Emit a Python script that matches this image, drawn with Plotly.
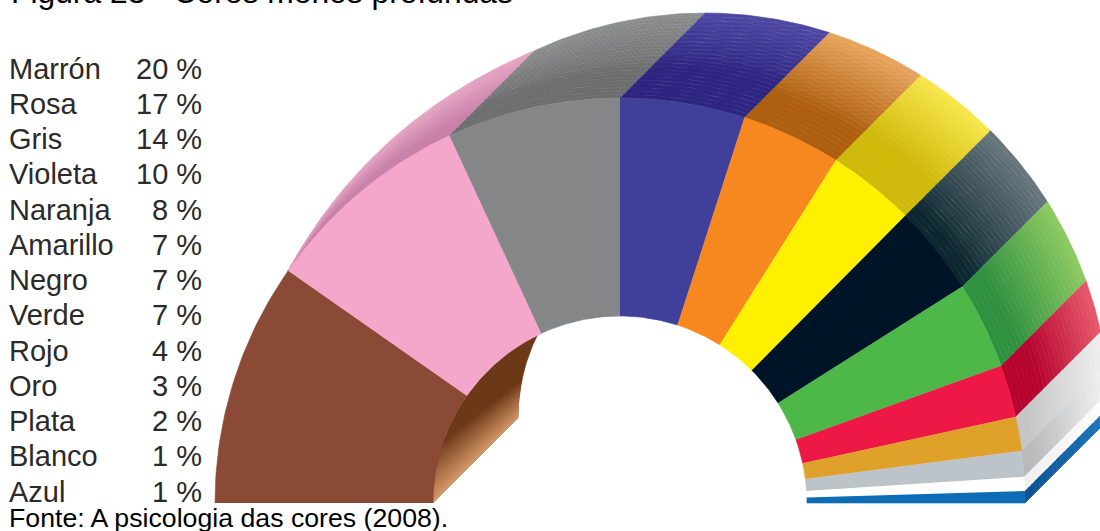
import math
import plotly.graph_objects as go

# ---- data ----
categories = ["Marrón", "Rosa", "Gris", "Violeta", "Naranja", "Amarillo", "Negro",
              "Verde", "Rojo", "Oro", "Plata", "Blanco", "Azul"]
percent = [20, 17, 14, 10, 8, 7, 7, 7, 4, 3, 2, 1, 1]
# angular width of each slice as drawn in the picture (degrees)
span_deg = [35.0, 30.1, 24.9, 17.9, 14.3, 12.6, 12.9, 12.5, 7.5, 4.9, 3.7, 2.0, 1.7]
front_colors = ["#8a4a35", "#f4a6cb", "#848688", "#40409a", "#f7881f", "#fff000", "#001428",
                "#4db848", "#ee1847", "#e0a12a", "#bcc3c9", "#ffffff", "#0d6cb3"]
top_dark = ["#8a4a35", "#c67da6", "#6c6d6f", "#2d2580", "#ad5e0f", "#cfb90a", "#0c2730",
            "#2f9040", "#b5042e", "#c4c5c7", "#b8b9bb", "#efefef", "#0b4f8f"]
top_light = ["#8a4a35", "#e5a3c2", "#8b8c8c", "#4c46a2", "#e9a45c", "#f8e84c", "#67767d",
             "#8ecb63", "#e75a6b", "#f0f0f0", "#f4f4f4", "#ffffff", "#1f78c0"]
top_hold = [0, 0.2, 0.3, 0.38, 0.3, 0.35, 0.1, 0.2, 0.3, 0.1, 0.1, 0, 0]
hatch_shape = ["", "", "\\", "-", "-", "", "\\", "", "", "", "", "", ""]

# ---- geometry of the extruded half ring ----
CX, CY, R_OUT, R_IN = 620.0, 503.0, 405.0, 187.0
DX, DY = 85.0, -85.0
BANDS = 24


def pt(r, deg, t=0.0):
    a = math.radians(deg)
    return CX + r * math.cos(a) + t * DX, CY - r * math.sin(a) + t * DY


def arc(r, a0, a1, t=0.0, n=40):
    p = [pt(r, a0 + (a1 - a0) * i / n, t) for i in range(n + 1)]
    return [q[0] for q in p], [q[1] for q in p]


def mix(c0, c1, f):
    a = [int(c0[i:i + 2], 16) for i in (1, 3, 5)]
    b = [int(c1[i:i + 2], 16) for i in (1, 3, 5)]
    return "rgb(%d,%d,%d)" % tuple(round(u + (v - u) * f) for u, v in zip(a, b))


fig = go.Figure()


def poly(xs, ys, color, name, text=None):
    fig.add_trace(go.Scatter(x=xs, y=ys, mode="lines", fill="toself", fillcolor=color,
                             line=dict(color=color, width=0.6), name=name,
                             hoverinfo="text", hoveron="fills", text=text or name, showlegend=False))


# angle limits of every slice
edges = [180.0]
for s in span_deg:
    edges.append(edges[-1] - s)

# inner wall seen through the hole
i_front = 116.2
i_back = 153.7
fx, fy = arc(R_IN, 180, i_front)
bx, by = arc(R_IN, i_back, 180, 1.0)
poly(fx + bx, fy + by, "#6b3818", "Marrón wall")
for b in range(BANDS):
    s0, s1 = b / BANDS, (b + 1) / BANDS
    p = [pt(R_IN, 180 - 20 * s0), pt(R_IN, 180 - 20 * s1),
         pt(R_IN, 180 - 12 * s1, 1.0), pt(R_IN, 180 - 12 * s0, 1.0)]
    poly([q[0] for q in p], [q[1] for q in p], mix("#dc9d6c", "#6b3818", (b + 0.5) / BANDS), "Marrón wall")

# outer rim (top faces)
for i, cat in enumerate(categories):
    if i == 0:
        continue
    a0, a1 = edges[i], edges[i + 1]
    for b in range(BANDS):
        t0, t1 = b / BANDS, (b + 1) / BANDS
        f = max(0.0, ((t0 + t1) / 2 - top_hold[i]) / (1 - top_hold[i]))
        col = mix(top_dark[i], top_light[i], f)
        if i == 1:
            # rose rim tapers from the brown corner to the translated arc
            ax, ay = pt(R_OUT, a0)
            ex, ey = pt(R_OUT, a1, 1.0)
            qx, qy = 371.0, 119.0
            n = 40
            lo, hi = [], []
            for k in range(n + 1):
                u = k / n
                f0 = pt(R_OUT, a0 + (a1 - a0) * u)
                sx = (1 - u) ** 2 * ax + 2 * u * (1 - u) * qx + u * u * ex
                sy = (1 - u) ** 2 * ay + 2 * u * (1 - u) * qy + u * u * ey
                lo.append((f0[0] + (sx - f0[0]) * t0, f0[1] + (sy - f0[1]) * t0))
                hi.append((f0[0] + (sx - f0[0]) * t1, f0[1] + (sy - f0[1]) * t1))
            p = lo + hi[::-1]
            poly([q[0] for q in p], [q[1] for q in p], col, cat, f"{cat} {percent[i]} %")
        else:
            x0, y0 = arc(R_OUT, a0, a1, t0)
            x1, y1 = arc(R_OUT, a1, a0, t1)
            poly(x0 + x1, y0 + y1, col, cat, f"{cat} {percent[i]} %")
    # fine screen on the lit part of the rim
    if hatch_shape[i]:
        x0, y0 = arc(R_OUT, a0, a1, top_hold[i] + 0.1)
        x1, y1 = arc(R_OUT, a1, a0, 1.0)
        fig.add_trace(go.Scatter(x=x0 + x1, y=y0 + y1, mode="none", fill="toself",
                                 fillcolor="rgba(0,0,0,0)", hoverinfo="skip", showlegend=False,
                                 fillpattern=dict(shape=hatch_shape[i], size=4, solidity=0.25,
                                                  fgcolor="rgba(255,255,255,0.14)", bgcolor="rgba(0,0,0,0)")))

# front faces
for i, cat in enumerate(categories):
    x0, y0 = arc(R_OUT, edges[i], edges[i + 1])
    x1, y1 = arc(R_IN, edges[i + 1], edges[i])
    poly(x0 + x1, y0 + y1, front_colors[i], cat, f"{cat} {percent[i]} %")

# ---- texts ----
annos = []
FS = 29


def label(x, base, text, size, color, anchor="left"):
    annos.append(dict(x=x, y=base - 0.36 * size, xref="x", yref="y", text=text, showarrow=False,
                      xanchor=anchor, yanchor="middle", font=dict(family="Liberation Sans", size=size, color=color),
                      borderpad=0, borderwidth=0))


for i, (c, v) in enumerate(zip(categories, percent)):
    base = 79 + i * 35.25
    label(9, base, c, FS, "#2a2a2a")
    label(202, base, f"{v} %", FS, "#2a2a2a", "right")
label(9, 528, "Fonte: A psicologia das cores (2008).", 26.7, "#000000")
annos.append(dict(x=9, y=4, xref="x", yref="y", text="Figura 23 - Cores menos profundas", showarrow=False,
                  xanchor="left", yanchor="middle", yshift=12.5,
                  font=dict(family="Liberation Sans", size=31.8, color="#000000")))

fig.update_layout(width=1100, height=531, margin=dict(l=0, r=0, t=0, b=0),
                  paper_bgcolor="white", plot_bgcolor="white", showlegend=False,
                  xaxis=dict(range=[0, 1100], visible=False, fixedrange=True),
                  yaxis=dict(range=[531, 0], visible=False, fixedrange=True),
                  annotations=annos)
fig.write_html("out.html", config={"displayModeBar": False}, post_script="document.body.style.margin='0';")
